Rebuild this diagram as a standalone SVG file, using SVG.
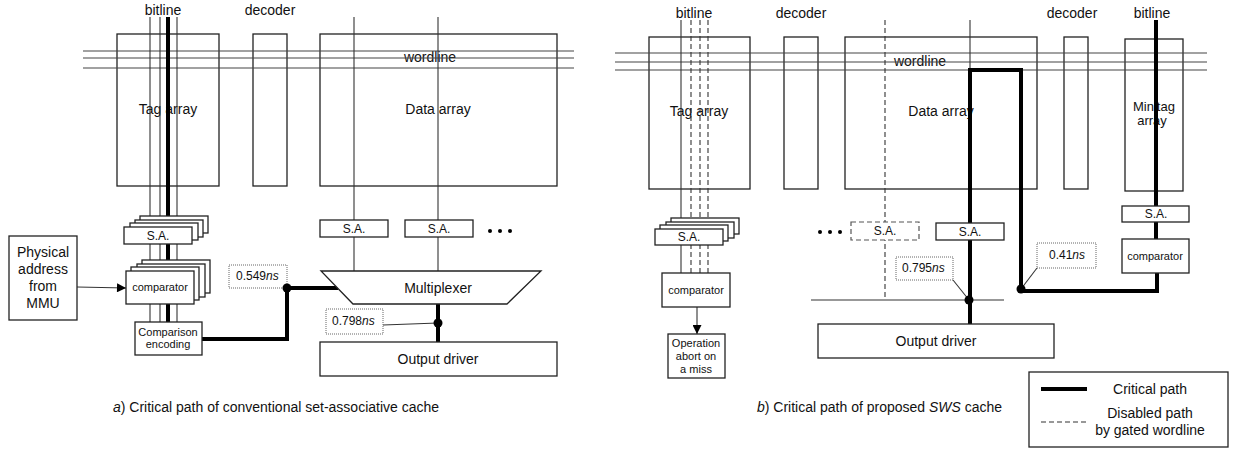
<svg xmlns="http://www.w3.org/2000/svg" width="1233" height="450" viewBox="0 0 1233 450">
  <style>
    text { font-family: "Liberation Sans", Arial, sans-serif; fill: #111; }
    .t14 { font-size: 14px; }
    .t13 { font-size: 13px; }
    .t12 { font-size: 12px; }
    .t11 { font-size: 11px; }
    .mid { text-anchor: middle; }
    .it { font-style: italic; }
    .thin { stroke: #333; stroke-width: 1.1; fill: none; }
    .wl { stroke: #444; stroke-width: 1.2; fill: none; }
    .dash { stroke: #333; stroke-width: 1.1; fill: none; stroke-dasharray: 5 3; }
    .crit { stroke: #000; stroke-width: 4; fill: none; }
    .array { fill: none; stroke: #222; stroke-width: 1.3; }
    .box { fill: #fff; stroke: #222; stroke-width: 1.3; }
    .dbox { fill: #fff; stroke: #555; stroke-width: 1.2; stroke-dasharray: 5 3; }
    .tag { fill: #fff; stroke: #666; stroke-width: 1; stroke-dasharray: 1 1; }
    .dot { fill: #000; }
  </style>
  <defs>
    <marker id="arrow" viewBox="0 0 10 10" refX="10" refY="5" markerWidth="12" markerHeight="9" markerUnits="userSpaceOnUse" orient="auto">
      <path d="M0,0 L10,5 L0,10 z" fill="#000"/>
    </marker>
  </defs>

  <!-- ===== (a) conventional cache: arrays and wordlines ===== -->
  <g id="a-arrays">
    <text class="t14 mid" x="163" y="15">bitline</text>
    <text class="t14 mid" x="270" y="15">decoder</text>
    <rect class="array" x="117" y="34" width="102" height="152"/>
    <text class="t14 mid" x="168" y="114">Tag array</text>
    <rect class="array" x="253" y="34" width="34" height="152"/>
    <rect class="array" x="320" y="34" width="237" height="152"/>
    <text class="t14 mid" x="430" y="62">wordline</text>
    <text class="t14 mid" x="438" y="114">Data array</text>
    <line class="wl" x1="83" y1="51" x2="574" y2="51"/>
    <line class="wl" x1="83" y1="58" x2="574" y2="58"/>
    <line class="wl" x1="83" y1="68" x2="574" y2="68"/>
  </g>

  <!-- ===== (b) SWS cache: arrays and wordlines ===== -->
  <g id="b-arrays">
    <text class="t14 mid" x="694" y="18">bitline</text>
    <text class="t14 mid" x="801" y="18">decoder</text>
    <text class="t14 mid" x="1072" y="18">decoder</text>
    <text class="t14 mid" x="1152" y="18">bitline</text>
    <rect class="array" x="649" y="37" width="101" height="152"/>
    <text class="t14 mid" x="699" y="116">Tag array</text>
    <rect class="array" x="784" y="37" width="34" height="152"/>
    <rect class="array" x="845" y="37" width="192" height="152"/>
    <text class="t14 mid" x="920" y="66">wordline</text>
    <text class="t14 mid" x="941" y="116">Data array</text>
    <rect class="array" x="1064" y="37" width="24" height="152"/>
    <rect class="array" x="1125" y="39" width="58" height="152"/>
    <text class="t13 mid" x="1154" y="111">Minitag</text>
    <text class="t13 mid" x="1152" y="125">array</text>
    <line class="wl" x1="615" y1="53" x2="1207" y2="53"/>
    <line class="wl" x1="615" y1="62" x2="1207" y2="62"/>
    <line class="wl" x1="615" y1="70" x2="1207" y2="70"/>
  </g>

  <!-- ===== bitlines and signal paths ===== -->
  <g id="connectors">
    <!-- (a) tag bitlines down to the comparison encoder -->
    <line class="thin" x1="150" y1="17" x2="150" y2="322"/>
    <line class="thin" x1="160" y1="17" x2="160" y2="322"/>
    <line class="thin" x1="177" y1="17" x2="177" y2="322"/>
    <line class="crit" x1="168" y1="17" x2="168" y2="322"/>
    <!-- (a) data bitlines down to the multiplexer -->
    <line class="thin" x1="354" y1="17" x2="354" y2="271"/>
    <line class="thin" x1="438" y1="17" x2="438" y2="271"/>
    <!-- (a) physical address input -->
    <line class="thin" x1="77" y1="287" x2="126" y2="288" marker-end="url(#arrow)"/>
    <!-- (a) critical path: encoder -> multiplexer -> output driver -->
    <polyline class="crit" points="202,339 287,339 287,288 338,288"/>
    <line class="crit" x1="438" y1="304" x2="438" y2="342"/>
    <line class="thin" x1="383" y1="325" x2="438" y2="323"/>

    <!-- (b) tag bitlines: one active, three gated -->
    <line class="thin" x1="681" y1="20" x2="681" y2="273"/>
    <line class="dash" x1="691" y1="20" x2="691" y2="273"/>
    <line class="dash" x1="700" y1="20" x2="700" y2="273"/>
    <line class="dash" x1="708" y1="20" x2="708" y2="273"/>
    <line class="thin" x1="697" y1="307" x2="697" y2="334" marker-end="url(#arrow)"/>
    <!-- (b) gated data bitline -->
    <line class="dash" x1="885" y1="20" x2="885" y2="300"/>
    <!-- (b) output bus -->
    <line class="thin" x1="811" y1="300" x2="1004" y2="300"/>
    <!-- (b) critical path through the selected way -->
    <line class="thin" x1="970" y1="20" x2="970" y2="70"/>
    <polyline class="crit" points="970,324 970,70 1021,70 1021,291 1157,291 1157,273"/>
    <line class="crit" x1="1156" y1="20" x2="1156" y2="239"/>
    <line class="thin" x1="953" y1="280" x2="969" y2="300"/>
    <line class="thin" x1="1037" y1="268" x2="1021" y2="289"/>
  </g>

  <!-- ===== (a) blocks ===== -->
  <g id="a-sa-stack">
    <rect class="box" x="140" y="216" width="68" height="17"/>
    <rect class="box" x="135" y="220" width="68" height="17"/>
    <rect class="box" x="130" y="223" width="68" height="17"/>
    <rect class="box" x="124" y="227" width="68" height="17"/>
    <text class="t12 mid" x="158" y="240">S.A.</text>
  </g>
  <g id="a-comparator-stack">
    <rect class="box" x="142" y="260" width="68" height="33"/>
    <rect class="box" x="137" y="264" width="68" height="33"/>
    <rect class="box" x="131" y="267" width="68" height="33"/>
    <rect class="box" x="126" y="271" width="68" height="33"/>
    <text class="t11 mid" x="160" y="291">comparator</text>
  </g>
  <g id="a-encoding">
    <rect class="box" x="135" y="322" width="67" height="33"/>
    <text class="t11 mid" x="168" y="336">Comparison</text>
    <text class="t11 mid" x="168" y="348">encoding</text>
  </g>
  <g id="a-physical-address">
    <rect class="box" x="9" y="236" width="68" height="84"/>
    <text class="t14 mid" x="43" y="257">Physical</text>
    <text class="t14 mid" x="43" y="274">address</text>
    <text class="t14 mid" x="43" y="291">from</text>
    <text class="t14 mid" x="43" y="308">MMU</text>
  </g>
  <g id="a-sa-1">
    <rect class="box" x="320" y="220" width="68" height="17"/>
    <text class="t12 mid" x="354" y="233">S.A.</text>
  </g>
  <g id="a-sa-2">
    <rect class="box" x="405" y="220" width="68" height="17"/>
    <text class="t12 mid" x="439" y="233">S.A.</text>
  </g>
  <g id="a-ellipsis">
    <circle class="dot" cx="490" cy="231" r="2"/>
    <circle class="dot" cx="500" cy="231" r="2"/>
    <circle class="dot" cx="510" cy="231" r="2"/>
  </g>
  <g id="a-multiplexer">
    <polygon class="box" points="321,271 541,271 507,304 353,304"/>
    <text class="t14 mid" x="438" y="293">Multiplexer</text>
  </g>
  <g id="a-output-driver">
    <rect class="box" x="320" y="342" width="237" height="34"/>
    <text class="t14 mid" x="438" y="364">Output driver</text>
  </g>
  <g id="a-delay-1">
    <rect class="tag" x="229" y="265" width="58" height="23"/>
    <text class="t12" x="236" y="280">0.549<tspan class="it">ns</tspan></text>
    <circle class="dot" cx="287" cy="288" r="4.5"/>
  </g>
  <g id="a-delay-2">
    <rect class="tag" x="326" y="309" width="57" height="25"/>
    <text class="t12" x="332" y="325">0.798<tspan class="it">ns</tspan></text>
    <circle class="dot" cx="438" cy="323" r="4.5"/>
  </g>
  <text class="t14" x="113" y="412"><tspan class="it">a</tspan>) Critical path of conventional set-associative cache</text>

  <!-- ===== (b) blocks ===== -->
  <g id="b-sa-stack">
    <rect class="box" x="671" y="218" width="68" height="16"/>
    <rect class="box" x="666" y="222" width="68" height="16"/>
    <rect class="box" x="660" y="225" width="68" height="16"/>
    <rect class="box" x="655" y="229" width="68" height="16"/>
    <text class="t12 mid" x="689" y="241">S.A.</text>
  </g>
  <g id="b-comparator">
    <rect class="box" x="662" y="273" width="68" height="34"/>
    <text class="t11 mid" x="696" y="294">comparator</text>
  </g>
  <g id="b-abort">
    <rect class="box" x="668" y="334" width="57" height="44"/>
    <text class="t11 mid" x="696" y="347">Operation</text>
    <text class="t11 mid" x="696" y="360">abort on</text>
    <text class="t11 mid" x="696" y="373">a miss</text>
  </g>
  <g id="b-ellipsis">
    <circle class="dot" cx="820" cy="232" r="2"/>
    <circle class="dot" cx="830" cy="232" r="2"/>
    <circle class="dot" cx="840" cy="232" r="2"/>
  </g>
  <g id="b-sa-gated">
    <rect class="dbox" x="851" y="222" width="68" height="18"/>
    <text class="t12 mid" x="885" y="235">S.A.</text>
  </g>
  <g id="b-sa-active">
    <rect class="box" x="936" y="223" width="68" height="17"/>
    <text class="t12 mid" x="970" y="236">S.A.</text>
  </g>
  <g id="b-output-driver">
    <rect class="box" x="818" y="324" width="236" height="34"/>
    <text class="t14 mid" x="936" y="346">Output driver</text>
  </g>
  <g id="b-minitag-sa">
    <rect class="box" x="1122" y="206" width="67" height="16"/>
    <text class="t12 mid" x="1156" y="218">S.A.</text>
  </g>
  <g id="b-minitag-comparator">
    <rect class="box" x="1122" y="239" width="67" height="34"/>
    <text class="t11 mid" x="1155" y="260">comparator</text>
  </g>
  <g id="b-delay-1">
    <rect class="tag" x="896" y="257" width="57" height="23"/>
    <text class="t12" x="902" y="272">0.795<tspan class="it">ns</tspan></text>
    <circle class="dot" cx="969" cy="300" r="4.5"/>
  </g>
  <g id="b-delay-2">
    <rect class="tag" x="1037" y="243" width="59" height="25"/>
    <text class="t12" x="1049" y="259">0.41<tspan class="it">ns</tspan></text>
    <circle class="dot" cx="1021" cy="289" r="4.5"/>
  </g>
  <text class="t14" x="757" y="412"><tspan class="it">b</tspan>) Critical path of proposed <tspan class="it">SWS</tspan> cache</text>

  <!-- ===== legend ===== -->
  <g id="legend">
    <rect class="box" x="1029" y="372" width="199" height="75"/>
    <line class="crit" x1="1041" y1="389" x2="1087" y2="389"/>
    <text class="t14 mid" x="1150" y="394">Critical path</text>
    <line class="dash" x1="1041" y1="422" x2="1087" y2="422"/>
    <text class="t14 mid" x="1150" y="418">Disabled path</text>
    <text class="t14 mid" x="1150" y="435">by gated wordline</text>
  </g>
</svg>
